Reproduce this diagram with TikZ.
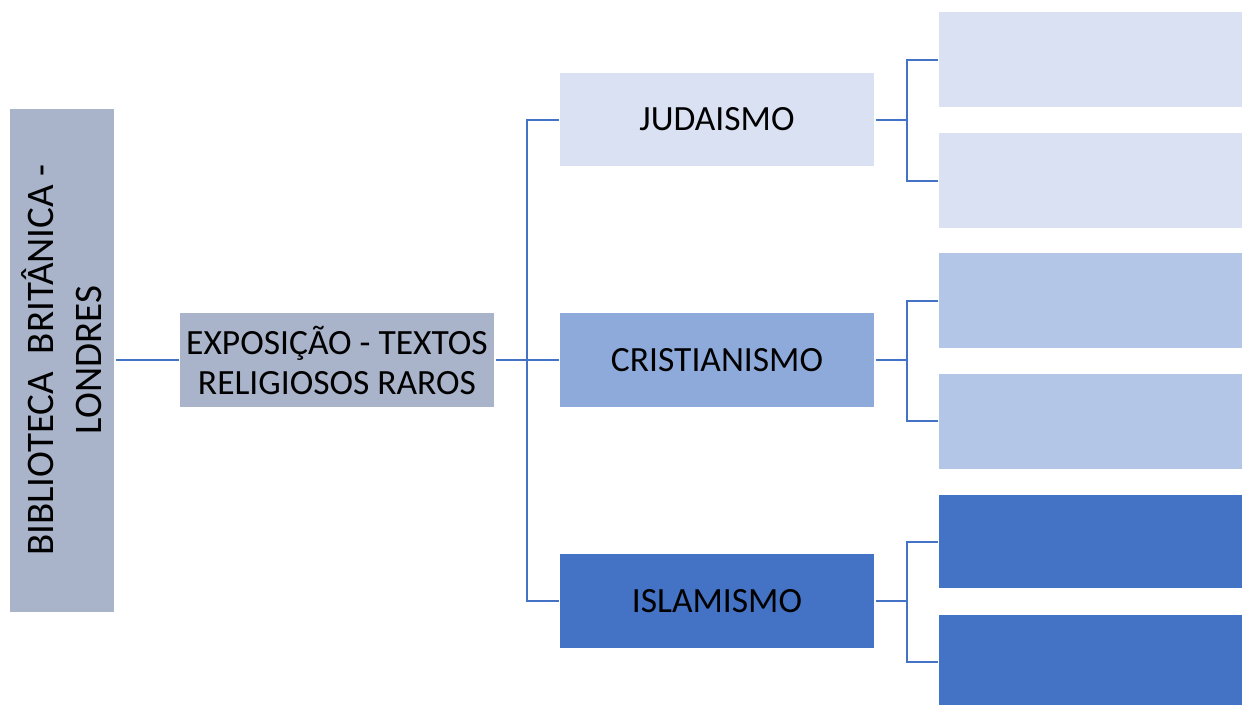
\documentclass[tikz,border=0pt]{standalone}
\usepackage{fontspec}
\setmainfont{Carlito}
\definecolor{grayblue}{HTML}{A9B4CA}
\definecolor{lightblue}{HTML}{D9E1F2}
\definecolor{midblue}{HTML}{8EAADB}
\definecolor{leafblue}{HTML}{B4C6E7}
\definecolor{darkblue}{HTML}{4472C4}
\definecolor{linecol}{HTML}{4472C4}
\begin{document}
\begin{tikzpicture}[x=1pt,y=-1pt,
  box/.style={rectangle, inner sep=0pt, outer sep=1.5pt, draw=none, align=center,
    font=\fontsize{35.5}{40}\selectfont, text=black},
  lvl/.style={box, minimum width=314pt, minimum height=94pt},
  leaf/.style={box, minimum width=303pt, minimum height=95pt},
  conn/.style={draw=linecol, line width=2pt}]
\clip (0,0) rectangle (1242,704);
\fill[white] (0,0) rectangle (1242,704);

\node[box, fill=grayblue, rotate=90, minimum width=503pt, minimum height=104pt,
  font=\fontsize{39}{48}\selectfont] (lib) at (62,360)
  {BIBLIOTECA\ \ BRITÂNICA -\\LONDRES};
\node[lvl, fill=grayblue] (exp) at (337,360) {EXPOSIÇÃO - TEXTOS\\RELIGIOSOS RAROS};

\node[lvl, fill=lightblue, minimum height=93pt] (jud) at (717,119.5) {JUDAISMO};
\node[lvl, fill=midblue] (cri) at (717,360) {CRISTIANISMO};
\node[lvl, fill=darkblue] (isl) at (717,601) {ISLAMISMO};

\node[leaf, fill=lightblue] (j1) at (1090.5,59.5) {};
\node[leaf, fill=lightblue] (j2) at (1090.5,180.5) {};
\node[leaf, fill=leafblue] (c1) at (1090.5,300.5) {};
\node[leaf, fill=leafblue] (c2) at (1090.5,421) {};
\node[leaf, fill=darkblue, minimum height=93pt] (i1) at (1090.5,541.5) {};
\node[leaf, fill=darkblue] (i2) at (1090.5,662) {};

\draw[conn] (lib.south) -- (exp.west);
\draw[conn] (exp.east) -- (cri.west);
\draw[conn] (jud.west) -- ++(-32,0) |- (isl.west);

\draw[conn] (jud.east) -- ++(31,0);
\draw[conn] (j1.west) -- ++(-31,0) |- (j2.west);
\draw[conn] (cri.east) -- ++(31,0);
\draw[conn] (c1.west) -- ++(-31,0) |- (c2.west);
\draw[conn] (isl.east) -- ++(31,0);
\draw[conn] (i1.west) -- ++(-31,0) |- (i2.west);
\end{tikzpicture}
\end{document}
